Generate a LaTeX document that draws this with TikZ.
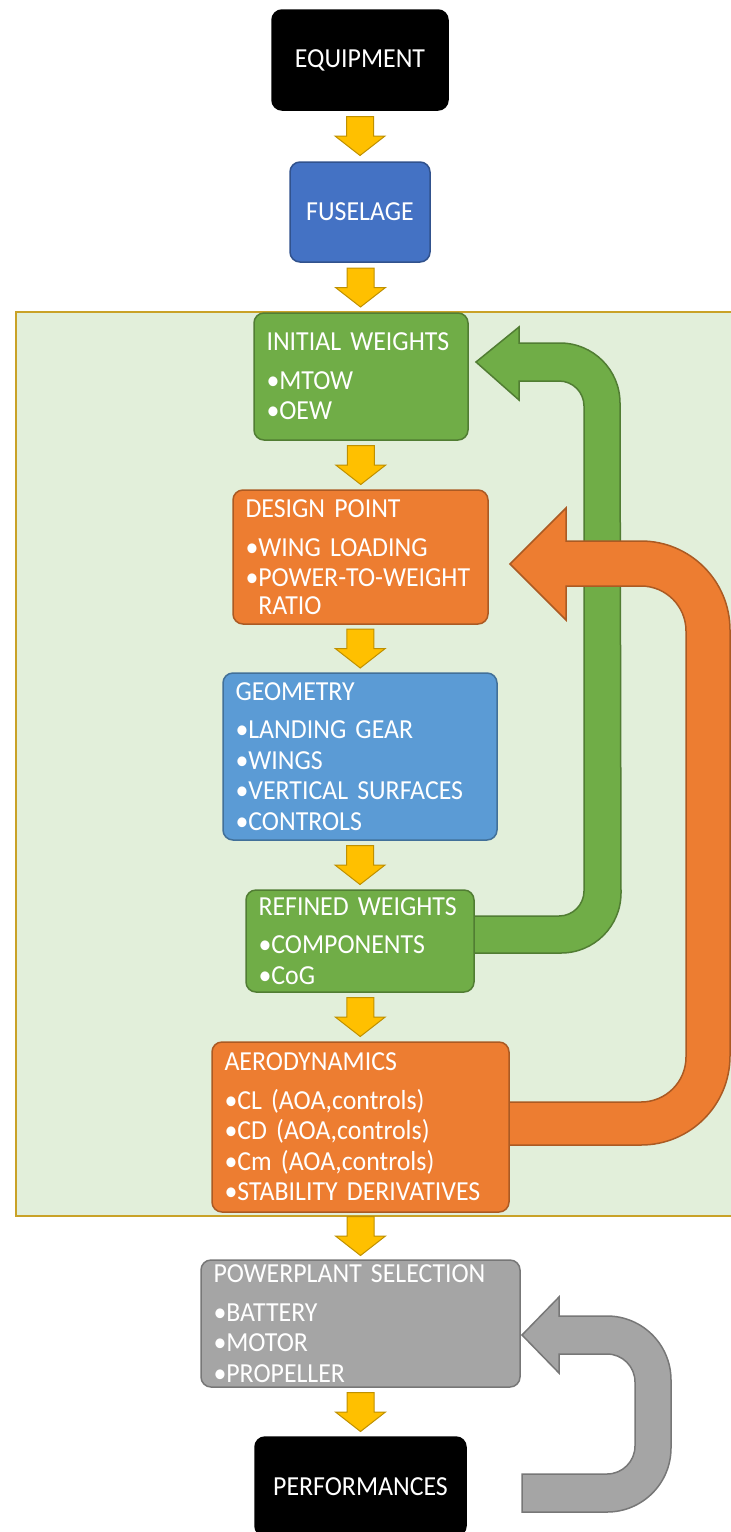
\documentclass[tikz,border=0pt]{standalone}
\usepackage{fontspec}
\setmainfont{Carlito}[FakeStretch=0.94, WordSpace=0.7]
\usepackage{tikz}
\usetikzlibrary{calc}
\definecolor{FrameFill}{HTML}{E2EFDA}
\definecolor{FrameLine}{HTML}{C9A227}
\definecolor{ArrowFill}{HTML}{FFC000}
\definecolor{ArrowLine}{HTML}{BF9000}
\definecolor{WeightColor}{HTML}{70AD47}
\definecolor{DesignColor}{HTML}{ED7D31}
\definecolor{FuselageColor}{HTML}{4472C4}
\definecolor{GeometryColor}{HTML}{5B9BD5}
\definecolor{PowerColor}{HTML}{A5A5A5}

\begin{document}
\begin{tikzpicture}[
    x=1pt, y=1pt,
    every node/.style={font=\fontsize{27.5}{30.5}\selectfont, text=white},
    box/.style={draw=#1!72!black, fill=#1, rectangle, rounded corners=10pt, line width=1.5pt, inner xsep=12.5pt, inner ysep=0pt},
    list/.style={align=left, text width=#1},
    backarrow/.style={draw=#1!72!black, fill=#1, line width=1.5pt},
    yarrow/.style={draw=ArrowLine, fill=ArrowFill, line width=1pt,
        to path={let \p1=($(\tikztostart)!0.5!(\tikztotarget)$) in
            (\x1-13.5,\y1+19.5) -- (\x1+13.5,\y1+19.5) -- (\x1+13.5,\y1) -- (\x1+25,\y1)
            -- (\x1,\y1-19.5) -- (\x1-25,\y1) -- (\x1-13.5,\y1) -- cycle}}
]
\clip (0,0) rectangle (731,-1532);

% Background
\node[draw=FrameLine, fill=FrameFill, line width=2pt, inner sep=0pt, anchor=north west, minimum width=740pt, minimum height=904pt] (frame) at (15,-311) {};

% Feedback arrows
\path[backarrow=WeightColor] (470,-916) -- (559,-916) arc[start angle=-90, end angle=0, radius=25]
    -- (584,-406) arc[start angle=0, end angle=90, radius=25]
    -- (519,-381) -- (519,-400) -- (476,-362) -- (519,-327) -- (519,-343)
    -- (560,-343) arc[start angle=90, end angle=0, radius=60]
    -- (621,-893) arc[start angle=0, end angle=-90, radius=60]
    -- (470,-953) -- cycle;
\path[backarrow=DesignColor] (505,-1102) -- (641,-1102) arc[start angle=-90, end angle=0, radius=45]
    -- (686,-631) arc[start angle=0, end angle=90, radius=45]
    -- (566,-586) -- (566,-620) -- (510,-564) -- (566,-508) -- (566,-541)
    -- (641,-541) arc[start angle=90, end angle=0, radius=89]
    -- (730,-1056) arc[start angle=0, end angle=-90, radius=89]
    -- (505,-1145) -- cycle;
\path[backarrow=PowerColor] (522,-1474) -- (607,-1474) arc[start angle=-90, end angle=0, radius=28]
    -- (635,-1382) arc[start angle=0, end angle=90, radius=28]
    -- (559,-1354) -- (559,-1373) -- (522,-1335) -- (559,-1297) -- (559,-1316)
    -- (607,-1316) arc[start angle=90, end angle=0, radius=64]
    -- (671,-1448) arc[start angle=0, end angle=-90, radius=64]
    -- (522,-1512) -- cycle;

% Main boxes
\node[box=black, minimum width=176pt, minimum height=100pt] (equipment) at (360,-60) {EQUIPMENT};
\node[box=FuselageColor, minimum width=140pt, minimum height=100pt] (fuselage) at (360,-212) {FUSELAGE};
\node[box=WeightColor, list=189pt, minimum width=214pt, minimum height=127pt] (initial) at (361,-376.5)
    {INITIAL WEIGHTS\\[8pt]•MTOW\\•OEW};
\node[box=DesignColor, list=230pt, minimum width=255pt, minimum height=134pt] (design) at (360.5,-557)
    {DESIGN POINT\\[8pt]•WING LOADING\\•POWER-TO-WEIGHT\\[-3pt]\phantom{•}RATIO};
\node[box=GeometryColor, list=249pt, minimum width=274pt, minimum height=167pt] (geometry) at (360,-756.5)
    {GEOMETRY\\[8pt]•LANDING GEAR\\•WINGS\\•VERTICAL SURFACES\\•CONTROLS};
\node[box=WeightColor, list=203pt, minimum width=228pt, minimum height=102pt] (refined) at (360,-941)
    {REFINED WEIGHTS\\[8pt]•COMPONENTS\\•CoG};
\node[box=DesignColor, list=272pt, minimum width=297pt, minimum height=170pt] (aero) at (360.5,-1127)
    {AERODYNAMICS\\[8pt]•CL (AOA,controls)\\•CD (AOA,controls)\\•Cm (AOA,controls)\\•STABILITY DERIVATIVES};
\node[box=PowerColor, list=294pt, minimum width=319pt, minimum height=127pt] (power) at (360.5,-1323.5)
    {POWERPLANT SELECTION\\[8pt]•BATTERY\\•MOTOR\\•PROPELLER};
\node[box=black, minimum width=211pt, minimum height=99pt] (perf) at (360.5,-1486.5) {PERFORMANCES};

% Flow arrows
\path[yarrow] (equipment.south) to (fuselage.north);
\path[yarrow] (fuselage.south) to (initial.north);
\path[yarrow] (initial.south) to (design.north);
\path[yarrow] (design.south) to (geometry.north);
\path[yarrow] (geometry.south) to (refined.north);
\path[yarrow] (refined.south) to (aero.north);
\path[yarrow] (aero.south) to (power.north);
\path[yarrow] (power.south) to (perf.north);
\end{tikzpicture}
\end{document}
